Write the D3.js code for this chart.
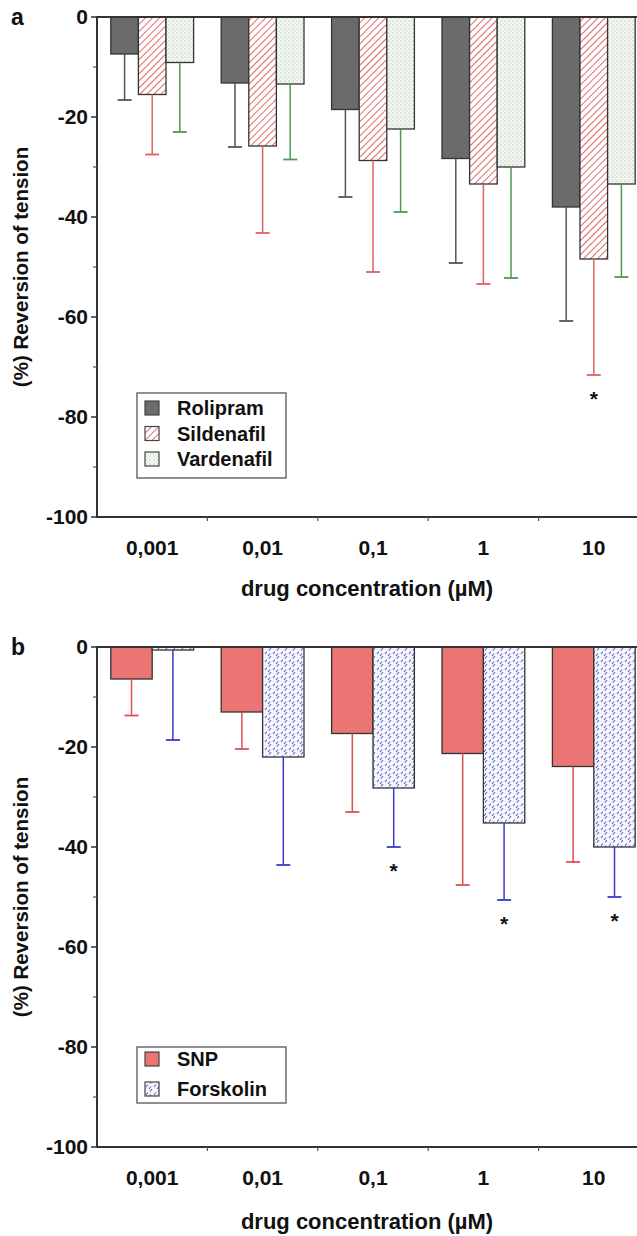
<!DOCTYPE html>
<html>
<head>
<meta charset="utf-8">
<script src="https://cdn.jsdelivr.net/npm/d3@7"></script>
<style>
  body { margin: 0; background: #fff; }
  text { font-family: "Liberation Sans", Arial, sans-serif; font-weight: bold; fill: #111; }
</style>
</head>
<body>
<svg id="svg" width="637" height="1236"></svg>
<script>
// concentrations on the x axis (shared by both panels)
let concentrations = ["0,001", "0,01", "0,1", "1", "10"];
let yTicks = [0, -20, -40, -60, -80, -100];
let yMinorTicks = [-10, -30, -50, -70, -90];

// panel a - PDE inhibitors (mean and SD, % reversion)
let seriesA = ["Rolipram", "Sildenafil", "Vardenafil"];
let rolipramMean = [-7.4, -13.2, -18.5, -28.3, -38.0];
let rolipramSD = [9.2, 12.8, 17.5, 20.9, 22.8];
let sildenafilMean = [-15.5, -25.8, -28.7, -33.4, -48.4];
let sildenafilSD = [12.0, 17.4, 22.3, 20.0, 23.2];
let vardenafilMean = [-9.1, -13.4, -22.4, -30.0, -33.4];
let vardenafilSD = [13.9, 15.1, 16.6, 22.2, 18.6];
let sigA = [[], [4], []];

// panel b - SNP and forskolin
let seriesB = ["SNP", "Forskolin"];
let snpMean = [-6.4, -13.0, -17.3, -21.3, -23.9];
let snpSD = [7.3, 7.4, 15.7, 26.3, 19.1];
let forskolinMean = [-0.6, -22.0, -28.2, -35.2, -40.0];
let forskolinSD = [18.0, 21.6, 11.8, 15.4, 10.0];
let sigB = [[], [2, 3, 4]];

let svg = d3.select("#svg");
let defs = svg.append("defs");

//Fill patterns for the bars
let hatch = defs.append("pattern").attr("id", "hatchRed")
    .attr("width", 5).attr("height", 5).attr("patternUnits", "userSpaceOnUse")
    .attr("patternTransform", "rotate(45)");
hatch.append("rect").attr("width", 5).attr("height", 5).attr("fill", "#fff");
hatch.append("line").attr("x1", 0).attr("y1", 0).attr("x2", 0).attr("y2", 5)
    .attr("stroke", "#e06a6a").attr("stroke-width", 2);

let dots = defs.append("pattern").attr("id", "dotsGreen")
    .attr("width", 4).attr("height", 4).attr("patternUnits", "userSpaceOnUse");
dots.append("rect").attr("width", 4).attr("height", 4).attr("fill", "#f3f8f1");
dots.append("circle").attr("cx", 1).attr("cy", 1).attr("r", 0.6).attr("fill", "#8fa58c");
dots.append("circle").attr("cx", 3).attr("cy", 3).attr("r", 0.6).attr("fill", "#b5c4b2");

let wave = defs.append("pattern").attr("id", "waveBlue")
    .attr("width", 8).attr("height", 8).attr("patternUnits", "userSpaceOnUse");
wave.append("rect").attr("width", 8).attr("height", 8).attr("fill", "#f5f5fc");
wave.append("path").attr("d", "M1,6 L3,3.5 M5,2.5 L7,0 M4,8 L6,5.5")
    .attr("stroke", "#5d63c4").attr("stroke-width", 1.1).attr("fill", "none");

let styleA = [
    { fill: "#6b6b6b", err: "#555555" },
    { fill: "url(#hatchRed)", err: "#e06060" },
    { fill: "url(#dotsGreen)", err: "#4f9a4f" }
];
let styleB = [
    { fill: "#ea7572", err: "#e05050" },
    { fill: "url(#waveBlue)", err: "#3a3acb" }
];

function drawPanel(opt) {
    let g = svg.append("g");

    let x0 = d3.scaleBand().domain(concentrations).range([97, 649])
        .paddingInner(0.25).paddingOuter(0.125);
    let x1 = d3.scaleBand().domain(opt.series).range([0, x0.bandwidth()]);
    let y = d3.scaleLinear().domain([0, -100]).range([opt.top, opt.top + 500]);

    //Bars
    opt.series.forEach(function (name, s) {
        let bars = concentrations.map(function (c, i) {
            return { c: c, mean: opt.means[s][i], sd: opt.sds[s][i], sig: opt.sig[s].indexOf(i) >= 0 };
        });
        let sg = g.append("g");
        sg.selectAll("rect").data(bars).enter().append("rect")
            .attr("x", d => x0(d.c) + x1(name))
            .attr("y", y(0))
            .attr("width", x1.bandwidth())
            .attr("height", d => y(d.mean) - y(0))
            .attr("fill", opt.styles[s].fill)
            .attr("stroke", "#333").attr("stroke-width", 1.3);

        //Error bars
        let cx = d => x0(d.c) + x1(name) + x1.bandwidth() / 2;
        sg.selectAll(".err").data(bars).enter().append("line")
            .attr("x1", cx).attr("x2", cx)
            .attr("y1", d => y(d.mean)).attr("y2", d => y(d.mean - d.sd))
            .attr("stroke", opt.styles[s].err).attr("stroke-width", 1.5);
        sg.selectAll(".cap").data(bars).enter().append("line")
            .attr("x1", d => cx(d) - 7).attr("x2", d => cx(d) + 7)
            .attr("y1", d => y(d.mean - d.sd)).attr("y2", d => y(d.mean - d.sd))
            .attr("stroke", opt.styles[s].err).attr("stroke-width", 1.8);

        //Significance stars
        sg.selectAll(".star").data(bars.filter(d => d.sig)).enter().append("text")
            .attr("x", cx).attr("y", d => y(d.mean - d.sd) + 31)
            .attr("text-anchor", "middle").style("font-size", "21px").text("*");
    });

    //Axes
    let left = x0.range()[0];
    g.append("line").attr("x1", left).attr("x2", 637).attr("y1", y(0)).attr("y2", y(0))
        .attr("stroke", "#333").attr("stroke-width", 2);
    g.append("line").attr("x1", left).attr("x2", 637).attr("y1", y(-100)).attr("y2", y(-100))
        .attr("stroke", "#333").attr("stroke-width", 2);
    g.append("line").attr("x1", left).attr("x2", left).attr("y1", y(0) - 1).attr("y2", y(-100) + 1)
        .attr("stroke", "#333").attr("stroke-width", 2);

    g.selectAll(".ytick").data(yTicks).enter().append("line")
        .attr("x1", left - 6).attr("x2", left).attr("y1", d => y(d)).attr("y2", d => y(d))
        .attr("stroke", "#333").attr("stroke-width", 1.5);
    g.selectAll(".yminor").data(yMinorTicks).enter().append("line")
        .attr("x1", left - 4).attr("x2", left).attr("y1", d => y(d)).attr("y2", d => y(d))
        .attr("stroke", "#555").attr("stroke-width", 1.2);
    g.selectAll(".ylab").data(yTicks).enter().append("text")
        .attr("x", left - 9).attr("y", d => y(d) + 7)
        .attr("text-anchor", "end").style("font-size", "21px").text(d => d);

    //x ticks between the groups
    let boundaries = concentrations.slice(1).map(c => x0(c) - x0.step() * x0.paddingInner() / 2);
    g.selectAll(".xtick").data(boundaries).enter().append("line")
        .attr("x1", d => d).attr("x2", d => d).attr("y1", y(-100)).attr("y2", y(-100) + 4)
        .attr("stroke", "#555").attr("stroke-width", 1.2);
    g.selectAll(".xlab").data(concentrations).enter().append("text")
        .attr("x", d => x0(d) + x0.bandwidth() / 2).attr("y", y(-100) + 38)
        .attr("text-anchor", "middle").style("font-size", "21px").text(d => d);

    g.append("text").attr("x", 367).attr("y", opt.titleY)
        .attr("text-anchor", "middle").style("font-size", "22px").text("drug concentration (µM)");
    g.append("text")
        .attr("transform", "translate(28," + y(-50) + ") rotate(-90)")
        .attr("text-anchor", "middle").style("font-size", "20.5px").text("(%) Reversion of tension");
    g.append("text").attr("x", 11).attr("y", y(0) + 8).style("font-size", "23px").text(opt.letter);

    //Legend
    let lg = g.append("g").attr("transform", "translate(137," + opt.legendY + ")");
    lg.append("rect").attr("width", 149).attr("height", opt.boxH)
        .attr("fill", "#fff").attr("stroke", "#555").attr("stroke-width", 1.3);
    opt.series.forEach(function (name, s) {
        let row = lg.append("g").attr("transform", "translate(0," + (opt.firstRow + s * opt.rowH) + ")");
        row.append("rect").attr("x", 8).attr("y", -7).attr("width", 14).attr("height", 14)
            .attr("fill", opt.styles[s].fill).attr("stroke", "#444").attr("stroke-width", 1.2);
        row.append("text").attr("x", 40).attr("y", 7).style("font-size", "20px").text(name);
    });
}

drawPanel({
    letter: "a", top: 17, titleY: 596, legendY: 393, firstRow: 15, rowH: 25.5, boxH: 85,
    series: seriesA,
    means: [rolipramMean, sildenafilMean, vardenafilMean],
    sds: [rolipramSD, sildenafilSD, vardenafilSD],
    sig: sigA, styles: styleA
});
drawPanel({
    letter: "b", top: 647, titleY: 1229, legendY: 1047, firstRow: 12, rowH: 30, boxH: 56,
    series: seriesB,
    means: [snpMean, forskolinMean],
    sds: [snpSD, forskolinSD],
    sig: sigB, styles: styleB
});
</script>
</body>
</html>
